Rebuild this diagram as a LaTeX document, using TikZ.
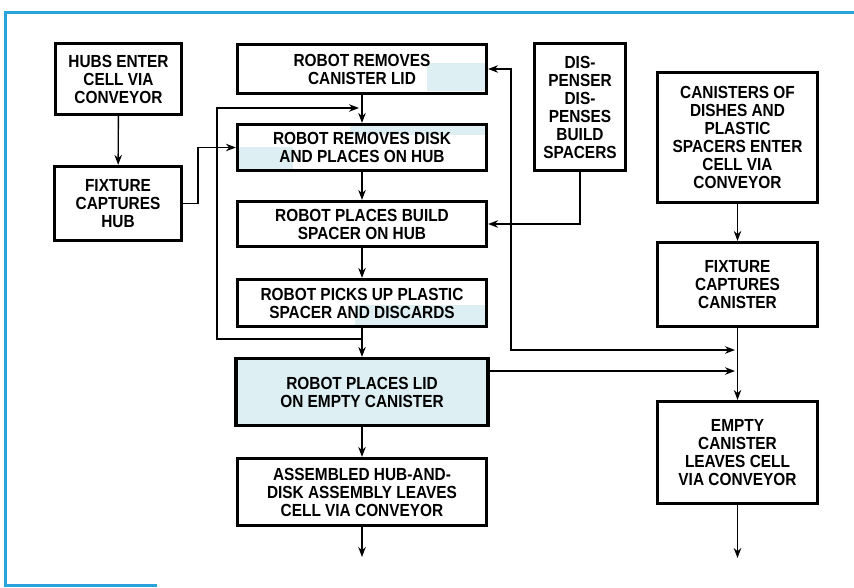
\documentclass[tikz,border=0pt]{standalone}
\usepackage{fontspec}
\setmainfont{Liberation Sans}[FakeStretch=0.88]
\usetikzlibrary{arrows.meta}

\definecolor{framecol}{HTML}{2AA3DC}
\definecolor{tint}{HTML}{DDEFF3}

\begin{document}
\begin{tikzpicture}[x=1pt, y=-1pt, >={Stealth[length=10pt, width=7.5pt]},
  box/.style={draw, line width=3.2pt, inner sep=0pt, align=center,
    font=\bfseries\fontsize{17.5}{18}\selectfont},
  flow/.style={->, line width=1.4pt}]

\useasboundingbox (0,0) rectangle (854,587);

% blue frame round the figure
\draw[framecol, line width=3pt] (854,12) -- (5,12) -- (5,585) -- (157,585);

% light tint left in some boxes
\fill[tint] (427,63) rectangle (486,91);
\fill[tint] (350,125) rectangle (486,135);
\fill[tint] (238,147) rectangle (293,169);
\fill[tint] (355,305) rectangle (486,326);

% left column: hubs
\node[box, minimum width=126pt, minimum height=71pt] (hubs) at (118.5,79) {HUBS ENTER\\CELL VIA\\CONVEYOR};
\node[box, minimum width=127pt, minimum height=74pt] (fixhub) at (118,203.5) {FIXTURE\\CAPTURES\\HUB};

% middle column: robot steps
\node[box, minimum width=249pt, minimum height=49pt] (lid) at (362,69) {ROBOT REMOVES\\CANISTER LID};
\node[box, minimum width=249pt, minimum height=46pt] (disk) at (362,147.5) {ROBOT REMOVES DISK\\AND PLACES ON HUB};
\node[box, minimum width=249pt, minimum height=45pt] (build) at (362,224) {ROBOT PLACES BUILD\\SPACER ON HUB};
\node[box, minimum width=249pt, minimum height=47pt] (discard) at (362,303) {ROBOT PICKS UP PLASTIC\\SPACER AND DISCARDS};
\node[box, fill=tint, minimum width=252pt, minimum height=67pt] (placelid) at (362,392) {ROBOT PLACES LID\\ON EMPTY CANISTER};
\node[box, minimum width=249pt, minimum height=67pt] (leaves) at (362,492) {ASSEMBLED HUB-AND-\\DISK ASSEMBLY LEAVES\\CELL VIA CONVEYOR};

% dispenser
\node[box, minimum width=91pt, minimum height=127pt] (dispenser) at (580,107) {DIS-\\PENSER\\DIS-\\PENSES\\BUILD\\SPACERS};

% right column: canisters
\node[box, minimum width=160pt, minimum height=130pt] (canisters) at (737.5,137.5) {CANISTERS OF\\DISHES AND\\PLASTIC\\SPACERS ENTER\\CELL VIA\\CONVEYOR};
\node[box, minimum width=160pt, minimum height=84pt] (fixcan) at (737.5,284.5) {FIXTURE\\CAPTURES\\CANISTER};
\node[box, minimum width=160pt, minimum height=102pt] (empty) at (737.5,452.5) {EMPTY\\CANISTER\\LEAVES CELL\\VIA CONVEYOR};

% junctions and free ends
\coordinate (loopin) at (359,108);
\coordinate (loopout) at (362,339);
\coordinate (loopcorner) at (217,108);
\coordinate (lidcorner) at (511,350);
\coordinate (canjoin1) at (735,350);
\coordinate (canjoin2) at (735,371);
\coordinate (hubout) at (362,557);
\coordinate (canout) at (737.5,558);

% connectors
\draw[flow] (hubs) -- (fixhub);
\draw[flow] (fixhub.east) -- ++(15,0) |- (disk.west);
\draw[flow] (lid) -- (disk);
\draw[flow] (disk) -- (build);
\draw[flow] (build) -- (discard);
\draw[flow] (discard) -- (placelid);
\draw[flow] (placelid) -- (leaves);
\draw[flow] (leaves) -- (hubout);
\draw[flow] (loopout) -| (loopcorner) -- (loopin);
\draw[flow] (dispenser.south) |- (build.east);
\draw[flow, <->] (lid.east) -| (lidcorner) -- (canjoin1);
\draw[flow] (placelid.east |- canjoin2) -- (canjoin2);
\draw[flow] (canisters) -- (fixcan);
\draw[flow] (fixcan) -- (empty);
\draw[flow] (empty) -- (canout);

\end{tikzpicture}
\end{document}
